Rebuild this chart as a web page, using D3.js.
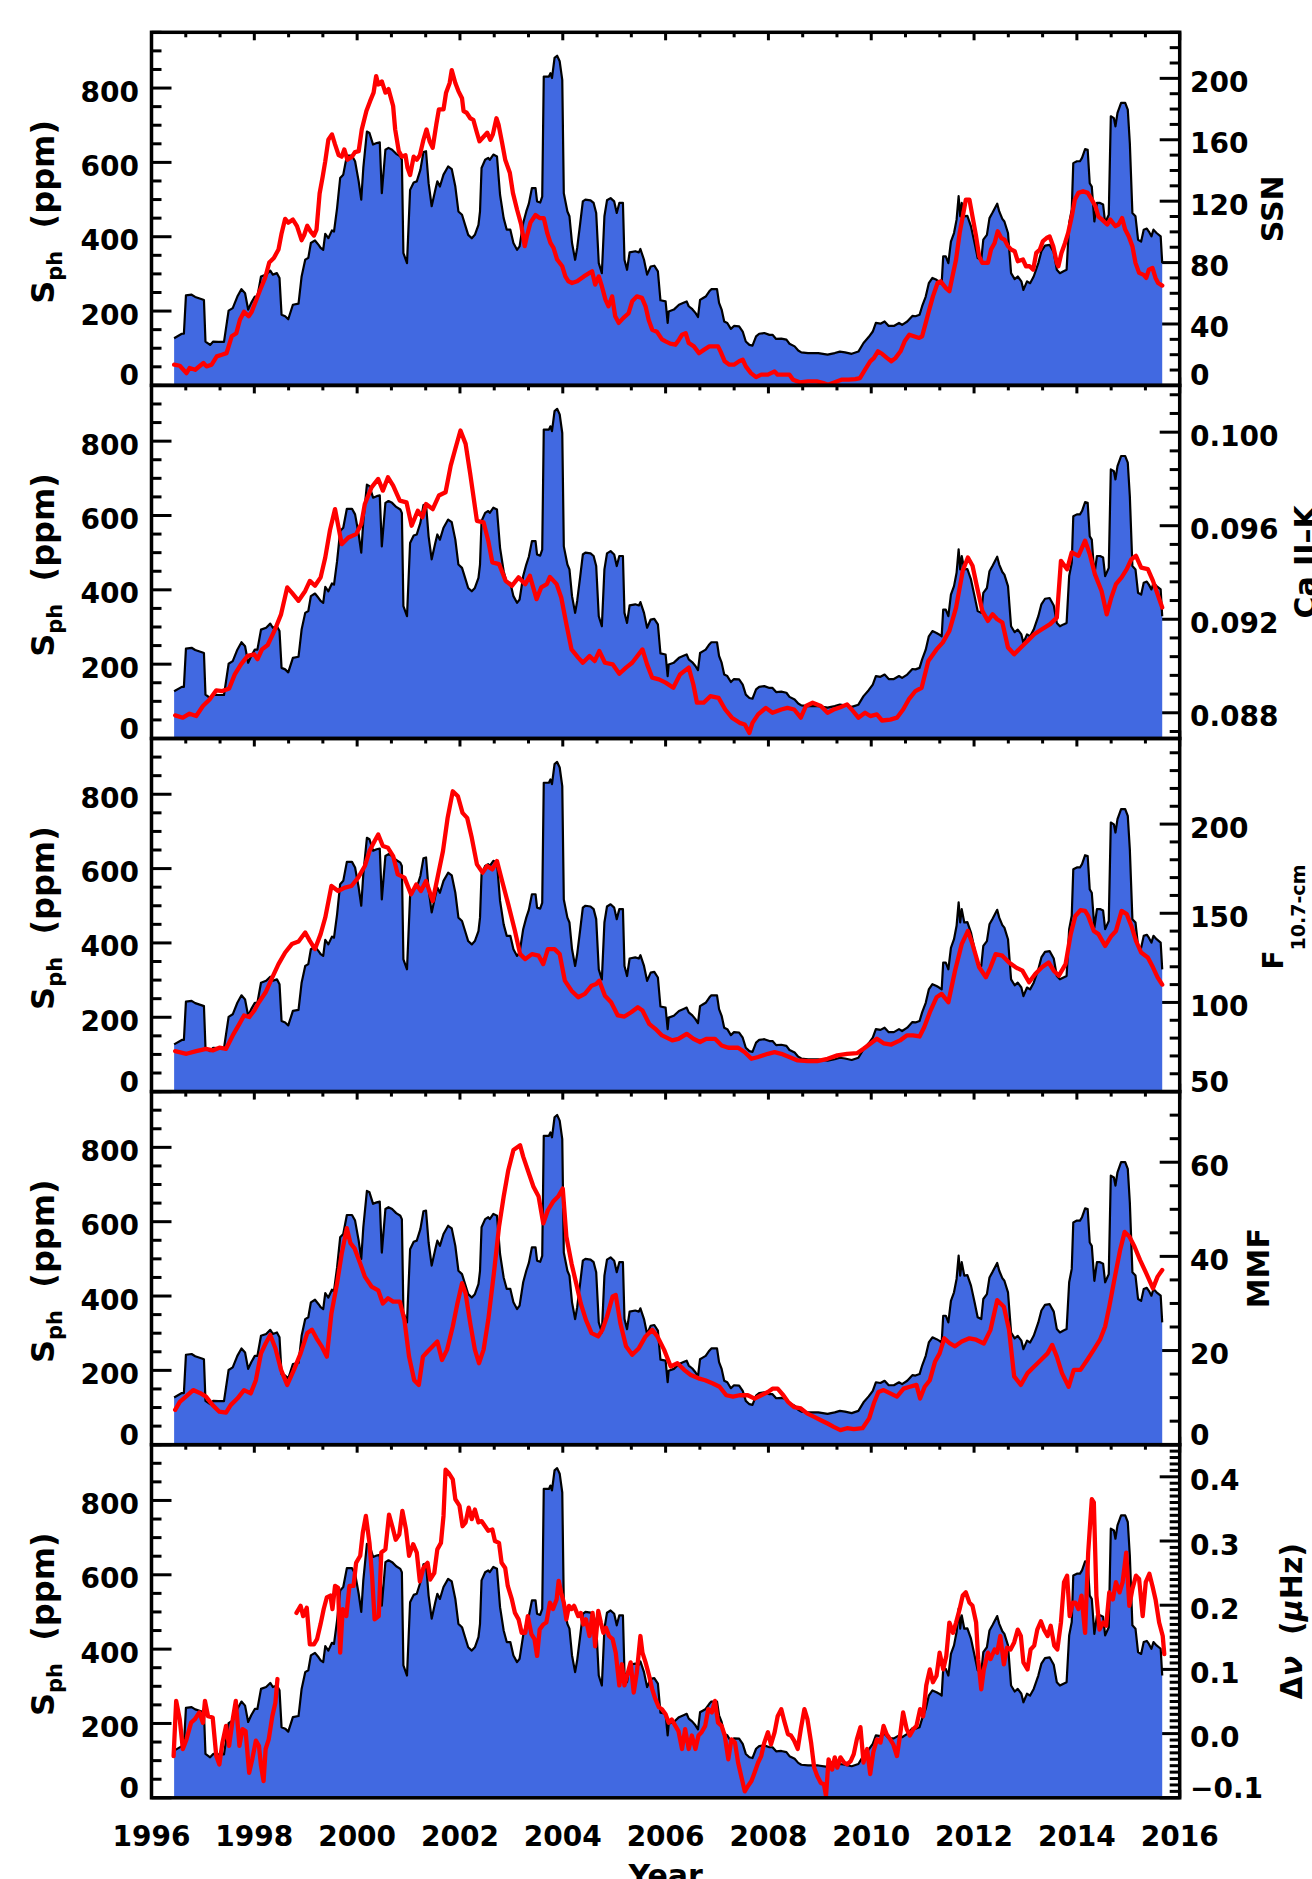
<!DOCTYPE html>
<html><head><meta charset="utf-8">
<script src="https://cdn.jsdelivr.net/npm/d3@7"></script>
<style>
body{margin:0;background:#fff;}
svg{display:block;background:#fff;}
text{font-family:"DejaVu Sans",sans-serif;font-weight:bold;fill:#000;}
</style></head><body>
<svg id="chart" width="1312" height="1879"></svg>
<script>
// ---- DATA (year, value) ----
const sphData = [[1996.44,127],[1996.59,139],[1996.63,139],[1996.67,242],[1996.78,244],[1996.85,238],[1996.98,232],[1997.02,230],[1997.05,118],[1997.14,109],[1997.20,118],[1997.30,117],[1997.41,117],[1997.50,201],[1997.58,208],[1997.67,239],[1997.75,259],[1997.82,248],[1997.88,204],[1997.94,222],[1998.01,239],[1998.06,239],[1998.13,293],[1998.23,298],[1998.31,309],[1998.36,298],[1998.44,302],[1998.49,289],[1998.53,190],[1998.60,186],[1998.66,178],[1998.75,217],[1998.86,220],[1998.92,293],[1998.99,338],[1999.05,343],[1999.10,383],[1999.18,390],[1999.25,378],[1999.29,370],[1999.34,365],[1999.38,408],[1999.44,396],[1999.51,417],[1999.55,414],[1999.61,477],[1999.67,558],[1999.73,567],[1999.80,618],[1999.90,618],[1999.96,603],[2000.03,549],[2000.08,500],[2000.12,585],[2000.19,683],[2000.24,679],[2000.31,648],[2000.38,652],[2000.44,654],[2000.48,517],[2000.55,634],[2000.61,639],[2000.68,634],[2000.76,623],[2000.84,616],[2000.87,607],[2000.90,356],[2000.97,329],[2001.03,526],[2001.10,546],[2001.16,549],[2001.23,580],[2001.29,628],[2001.34,630],[2001.39,544],[2001.45,482],[2001.52,526],[2001.56,549],[2001.61,535],[2001.68,567],[2001.77,589],[2001.84,582],[2001.91,535],[2001.97,468],[2002.04,459],[2002.10,432],[2002.16,405],[2002.23,396],[2002.29,405],[2002.36,432],[2002.39,468],[2002.42,585],[2002.49,607],[2002.55,612],[2002.58,607],[2002.65,621],[2002.72,616],[2002.78,513],[2002.85,450],[2002.91,419],[2002.98,419],[2003.04,383],[2003.11,365],[2003.16,374],[2003.23,437],[2003.29,468],[2003.34,489],[2003.40,531],[2003.47,531],[2003.50,495],[2003.56,492],[2003.60,508],[2003.63,831],[2003.73,831],[2003.76,840],[2003.79,827],[2003.84,881],[2003.89,887],[2003.94,872],[2003.99,822],[2004.02,517],[2004.09,468],[2004.13,455],[2004.18,383],[2004.24,338],[2004.28,370],[2004.34,437],[2004.39,495],[2004.44,500],[2004.54,498],[2004.60,491],[2004.65,464],[2004.70,329],[2004.76,302],[2004.81,455],[2004.86,498],[2004.93,504],[2005.00,495],[2005.05,464],[2005.10,491],[2005.17,491],[2005.20,338],[2005.25,311],[2005.30,358],[2005.41,361],[2005.48,358],[2005.51,367],[2005.58,338],[2005.64,298],[2005.71,320],[2005.78,322],[2005.85,307],[2005.90,229],[2006.00,226],[2006.04,168],[2006.06,199],[2006.16,204],[2006.26,217],[2006.36,223],[2006.41,226],[2006.45,213],[2006.52,205],[2006.58,195],[2006.63,184],[2006.67,230],[2006.73,235],[2006.78,239],[2006.85,253],[2006.89,259],[2007.00,259],[2007.04,222],[2007.09,204],[2007.14,172],[2007.20,168],[2007.27,152],[2007.33,160],[2007.43,159],[2007.50,145],[2007.56,118],[2007.63,109],[2007.69,107],[2007.76,132],[2007.82,139],[2007.92,141],[2008.02,136],[2008.08,136],[2008.15,125],[2008.25,126],[2008.35,123],[2008.41,112],[2008.51,105],[2008.58,94],[2008.64,89],[2008.77,87],[2008.97,87],[2009.15,83],[2009.29,87],[2009.39,91],[2009.49,89],[2009.62,85],[2009.75,91],[2009.85,114],[2009.95,130],[2010.03,145],[2010.09,168],[2010.18,166],[2010.26,172],[2010.34,160],[2010.44,160],[2010.54,168],[2010.60,163],[2010.70,172],[2010.80,187],[2010.86,186],[2010.94,190],[2010.99,213],[2011.06,239],[2011.12,275],[2011.19,289],[2011.27,284],[2011.32,280],[2011.37,275],[2011.40,347],[2011.45,347],[2011.50,329],[2011.55,387],[2011.61,410],[2011.66,446],[2011.70,509],[2011.73,455],[2011.76,491],[2011.81,455],[2011.87,456],[2011.94,428],[2012.01,383],[2012.07,343],[2012.14,338],[2012.18,392],[2012.25,405],[2012.30,450],[2012.36,465],[2012.45,489],[2012.49,468],[2012.55,448],[2012.59,441],[2012.66,410],[2012.72,302],[2012.79,286],[2012.85,293],[2012.92,280],[2012.96,257],[2013.03,280],[2013.09,275],[2013.16,293],[2013.25,329],[2013.31,361],[2013.38,376],[2013.47,378],[2013.55,358],[2013.61,311],[2013.67,302],[2013.74,307],[2013.80,311],[2013.85,437],[2013.90,473],[2013.93,598],[2014.00,603],[2014.06,603],[2014.10,612],[2014.16,636],[2014.21,634],[2014.25,544],[2014.29,535],[2014.34,441],[2014.39,491],[2014.45,491],[2014.51,487],[2014.55,437],[2014.62,459],[2014.66,724],[2014.72,719],[2014.75,697],[2014.79,733],[2014.86,760],[2014.94,760],[2014.99,742],[2015.03,652],[2015.08,464],[2015.14,455],[2015.19,392],[2015.25,387],[2015.30,419],[2015.36,422],[2015.40,414],[2015.45,401],[2015.49,419],[2015.55,410],[2015.63,401],[2015.66,329]];

const ssnData = [[1996.44,13.5],[1996.55,12.8],[1996.68,8],[1996.74,11.3],[1996.85,10.2],[1997.01,14.6],[1997.07,12.4],[1997.17,13.5],[1997.27,18.9],[1997.37,20],[1997.46,21],[1997.56,32],[1997.65,34],[1997.72,42.8],[1997.80,48],[1997.89,45],[1997.95,48],[1998.03,55],[1998.11,62],[1998.21,70],[1998.29,80],[1998.38,83],[1998.47,88.5],[1998.53,99],[1998.60,108.5],[1998.66,106],[1998.75,108],[1998.83,103.7],[1998.92,94.6],[1998.97,98],[1999.03,104],[1999.10,100],[1999.16,97.6],[1999.21,101.5],[1999.27,125],[1999.33,136],[1999.38,146],[1999.44,160],[1999.51,163.5],[1999.57,157],[1999.64,150],[1999.70,149],[1999.75,153.7],[1999.81,147],[1999.90,149],[1999.96,152],[2000.03,152.6],[2000.09,166.7],[2000.18,178.7],[2000.25,185],[2000.32,190.7],[2000.37,201.5],[2000.41,196],[2000.48,198],[2000.55,190.7],[2000.61,193],[2000.70,182],[2000.74,166.7],[2000.81,152.6],[2000.87,149],[2000.94,150],[2000.98,141.7],[2001.03,137],[2001.10,149],[2001.16,147],[2001.22,150],[2001.29,160],[2001.35,166.7],[2001.41,159],[2001.47,154.8],[2001.54,170],[2001.59,179.8],[2001.68,179.8],[2001.73,190.7],[2001.80,197],[2001.84,205.4],[2001.91,197],[2001.97,191.7],[2002.04,187],[2002.07,178.7],[2002.13,177.6],[2002.20,174],[2002.26,173],[2002.33,164.6],[2002.38,159],[2002.46,162],[2002.53,164.6],[2002.59,160],[2002.64,163.5],[2002.71,174],[2002.75,170],[2002.82,158],[2002.88,147],[2002.97,138.5],[2003.03,125.4],[2003.11,114.6],[2003.19,104.8],[2003.26,90.7],[2003.30,97],[2003.37,106],[2003.47,111],[2003.55,109],[2003.63,109],[2003.70,99],[2003.76,92.8],[2003.82,89.6],[2003.89,82],[2003.99,77.6],[2004.05,71],[2004.11,67.8],[2004.18,66.7],[2004.28,67.8],[2004.41,71],[2004.52,73.3],[2004.57,74.3],[2004.63,65.7],[2004.70,71],[2004.76,64.6],[2004.83,55.9],[2004.89,51.5],[2004.96,58],[2005.02,45],[2005.09,40.7],[2005.18,44],[2005.28,47],[2005.35,54.8],[2005.44,58],[2005.54,57],[2005.61,51.5],[2005.67,42.8],[2005.74,36.3],[2005.83,35],[2005.93,30],[2006.00,28.7],[2006.09,27.2],[2006.19,26.5],[2006.26,29.8],[2006.32,33],[2006.39,34],[2006.45,27.6],[2006.55,25.4],[2006.65,21],[2006.75,23.3],[2006.85,25.4],[2006.94,25.4],[2007.02,25.4],[2007.07,22],[2007.15,15.7],[2007.24,13.5],[2007.33,13.5],[2007.43,15.7],[2007.50,16.7],[2007.56,12.4],[2007.66,8],[2007.76,5.4],[2007.86,7],[2007.99,7],[2008.05,8],[2008.12,9.1],[2008.18,7],[2008.32,7],[2008.41,7],[2008.48,3.7],[2008.61,2],[2008.77,2.6],[2008.94,2.6],[2009.07,1.5],[2009.16,0.4],[2009.29,2],[2009.42,3.7],[2009.56,3.7],[2009.69,4.1],[2009.78,4.8],[2009.88,10.2],[2009.98,15.7],[2010.05,17.8],[2010.13,22.2],[2010.21,20.6],[2010.31,17.8],[2010.39,15.7],[2010.47,17.8],[2010.57,22.2],[2010.65,28.7],[2010.74,33],[2010.83,32],[2010.93,30.9],[2010.99,32],[2011.06,40.7],[2011.12,48.3],[2011.20,58],[2011.29,66.7],[2011.35,67.8],[2011.45,63.5],[2011.52,61.3],[2011.58,71],[2011.65,82],[2011.72,99.3],[2011.78,110],[2011.84,121],[2011.91,121],[2011.97,110],[2012.04,97],[2012.10,84],[2012.16,79.8],[2012.27,79.8],[2012.33,88.5],[2012.40,92.8],[2012.46,100.4],[2012.53,96],[2012.59,95],[2012.66,90.7],[2012.72,88.5],[2012.79,87.4],[2012.85,80.9],[2012.95,82],[2013.01,77.6],[2013.08,77.6],[2013.15,75.4],[2013.21,86.3],[2013.28,88.5],[2013.34,94],[2013.41,96],[2013.47,97],[2013.54,90.7],[2013.61,79.8],[2013.64,77.6],[2013.70,86.3],[2013.77,92.8],[2013.83,99.3],[2013.90,110],[2013.96,121],[2014.03,125.4],[2014.12,126.5],[2014.21,125.4],[2014.29,121],[2014.36,116.7],[2014.42,110],[2014.49,108],[2014.59,104.8],[2014.65,108],[2014.75,103.7],[2014.81,104.8],[2014.88,109],[2014.94,101.5],[2015.01,97],[2015.08,90.7],[2015.14,79.8],[2015.21,73.3],[2015.30,72],[2015.35,70],[2015.40,75.4],[2015.47,76.5],[2015.53,70],[2015.58,66.7],[2015.66,65]];

const caData = [[1996.46,0.08789],[1996.61,0.08779],[1996.74,0.08796],[1996.87,0.08786],[1997.00,0.08829],[1997.13,0.08857],[1997.26,0.08896],[1997.38,0.08893],[1997.51,0.08904],[1997.62,0.08964],[1997.74,0.09007],[1997.87,0.09043],[1998.00,0.09050],[1998.06,0.09029],[1998.15,0.09071],[1998.26,0.09090],[1998.39,0.09150],[1998.52,0.09221],[1998.64,0.09336],[1998.73,0.09314],[1998.86,0.09279],[1998.99,0.09321],[1999.08,0.09364],[1999.18,0.09343],[1999.29,0.09379],[1999.38,0.09464],[1999.47,0.09579],[1999.57,0.09671],[1999.70,0.09521],[1999.83,0.09550],[1999.98,0.09564],[2000.08,0.09607],[2000.15,0.09693],[2000.28,0.09764],[2000.41,0.09800],[2000.50,0.09750],[2000.60,0.09807],[2000.70,0.09771],[2000.83,0.09707],[2000.96,0.09700],[2001.06,0.09600],[2001.18,0.09664],[2001.27,0.09636],[2001.34,0.09693],[2001.47,0.09671],[2001.59,0.09729],[2001.72,0.09743],[2001.82,0.09857],[2001.91,0.09929],[2002.01,0.10007],[2002.11,0.09950],[2002.20,0.09821],[2002.33,0.09621],[2002.46,0.09614],[2002.55,0.09536],[2002.63,0.09443],[2002.76,0.09436],[2002.89,0.09364],[2003.01,0.09343],[2003.14,0.09379],[2003.27,0.09350],[2003.36,0.09386],[2003.49,0.09286],[2003.58,0.09336],[2003.69,0.09350],[2003.75,0.09381],[2003.88,0.09350],[2003.97,0.09293],[2004.07,0.09179],[2004.17,0.09071],[2004.30,0.09036],[2004.39,0.09014],[2004.52,0.09043],[2004.62,0.09021],[2004.71,0.09064],[2004.82,0.09014],[2004.97,0.09007],[2005.10,0.08967],[2005.23,0.08993],[2005.35,0.09014],[2005.55,0.09071],[2005.64,0.09007],[2005.74,0.08950],[2005.87,0.08943],[2006.00,0.08929],[2006.15,0.08907],[2006.28,0.08964],[2006.45,0.08993],[2006.54,0.08921],[2006.61,0.08843],[2006.74,0.08843],[2006.87,0.08871],[2007.03,0.08864],[2007.16,0.08814],[2007.29,0.08779],[2007.44,0.08757],[2007.54,0.08750],[2007.63,0.08714],[2007.69,0.08757],[2007.80,0.08793],[2007.95,0.08821],[2008.08,0.08800],[2008.25,0.08814],[2008.37,0.08821],[2008.50,0.08814],[2008.63,0.08779],[2008.73,0.08829],[2008.86,0.08843],[2009.02,0.08829],[2009.15,0.08800],[2009.27,0.08814],[2009.40,0.08824],[2009.53,0.08836],[2009.62,0.08814],[2009.75,0.08779],[2009.88,0.08800],[2009.98,0.08786],[2010.11,0.08793],[2010.21,0.08767],[2010.37,0.08771],[2010.50,0.08779],[2010.62,0.08814],[2010.73,0.08857],[2010.86,0.08893],[2010.98,0.08907],[2011.11,0.09021],[2011.27,0.09071],[2011.39,0.09100],[2011.52,0.09150],[2011.65,0.09250],[2011.78,0.09407],[2011.88,0.09464],[2011.97,0.09429],[2012.06,0.09336],[2012.16,0.09236],[2012.27,0.09193],[2012.36,0.09221],[2012.45,0.09200],[2012.55,0.09186],[2012.66,0.09079],[2012.78,0.09050],[2012.91,0.09079],[2013.04,0.09107],[2013.17,0.09136],[2013.32,0.09157],[2013.48,0.09179],[2013.61,0.09207],[2013.69,0.09450],[2013.81,0.09414],[2013.90,0.09486],[2014.03,0.09471],[2014.16,0.09536],[2014.25,0.09479],[2014.35,0.09393],[2014.48,0.09321],[2014.58,0.09221],[2014.67,0.09293],[2014.76,0.09350],[2014.87,0.09379],[2014.97,0.09414],[2015.06,0.09457],[2015.15,0.09471],[2015.25,0.09421],[2015.38,0.09414],[2015.48,0.09364],[2015.57,0.09307],[2015.66,0.09250]];

const f107Data = [[1996.46,72.7],[1996.68,71.2],[1996.87,72.7],[1997.06,74],[1997.19,73.1],[1997.32,74.6],[1997.45,74],[1997.58,81.5],[1997.71,88],[1997.80,92.7],[1997.90,91.8],[1998.00,95.5],[1998.09,100.1],[1998.22,105.7],[1998.35,114.1],[1998.47,121.5],[1998.60,128],[1998.73,132.7],[1998.86,134.2],[1998.99,139.2],[1999.08,134.5],[1999.18,129.9],[1999.29,138.3],[1999.38,147.6],[1999.50,165.3],[1999.63,162.5],[1999.76,164.4],[1999.89,165.3],[2000.02,170],[2000.15,176.5],[2000.24,184.9],[2000.34,190.5],[2000.41,194.2],[2000.50,187.7],[2000.60,186.7],[2000.70,182.1],[2000.79,171.8],[2000.92,170],[2001.05,160.6],[2001.15,166.2],[2001.24,162.5],[2001.34,168.1],[2001.47,156.9],[2001.59,173.7],[2001.67,184.9],[2001.76,203.5],[2001.86,218.4],[2001.96,215.6],[2002.05,206.3],[2002.14,203.5],[2002.23,192.3],[2002.33,177.4],[2002.44,172.8],[2002.53,176.5],[2002.63,174.6],[2002.72,179.3],[2002.82,168.1],[2002.94,155],[2003.07,140.1],[2003.17,127.1],[2003.27,124.3],[2003.40,127.1],[2003.53,126.2],[2003.62,121.5],[2003.71,129.9],[2003.84,129.9],[2003.94,127.1],[2004.04,112.2],[2004.17,106.6],[2004.30,102.9],[2004.43,104.8],[2004.56,109.4],[2004.65,110.3],[2004.71,112.2],[2004.82,103.8],[2004.94,100.1],[2005.07,92.7],[2005.20,92.1],[2005.33,94.5],[2005.46,97.3],[2005.55,95.5],[2005.68,88],[2005.80,85.2],[2005.93,81.5],[2006.13,78.7],[2006.25,79.6],[2006.41,82.4],[2006.54,79.6],[2006.67,77.8],[2006.79,79.6],[2006.96,79.6],[2007.09,75.9],[2007.22,74.6],[2007.41,74.6],[2007.54,72.1],[2007.67,68.4],[2007.80,69.4],[2007.99,71.2],[2008.12,72.1],[2008.25,71.2],[2008.38,69.7],[2008.57,67.5],[2008.76,67.1],[2008.95,67.1],[2009.15,68.4],[2009.34,70.3],[2009.53,71.2],[2009.73,71.6],[2009.85,74],[2009.98,76.8],[2010.11,79.6],[2010.24,77.1],[2010.39,76.4],[2010.56,78.7],[2010.69,81.5],[2010.81,81.5],[2010.94,80.9],[2011.03,86.1],[2011.14,94.5],[2011.27,102.9],[2011.37,104.8],[2011.50,100.1],[2011.63,117.8],[2011.76,132.7],[2011.88,140.1],[2011.97,132.7],[2012.10,119.7],[2012.23,114.1],[2012.32,119.7],[2012.42,127.1],[2012.55,126.2],[2012.68,122.4],[2012.81,119.7],[2012.94,117.8],[2013.07,111.3],[2013.19,115.9],[2013.32,119.7],[2013.45,122.4],[2013.55,117.8],[2013.65,115],[2013.78,121.5],[2013.88,138.3],[2013.97,148.5],[2014.07,151.7],[2014.16,151.3],[2014.22,148.5],[2014.33,140.1],[2014.42,138.3],[2014.55,131.7],[2014.67,137.3],[2014.76,140.1],[2014.87,151.3],[2014.97,149.5],[2015.06,142.9],[2015.15,134.5],[2015.25,128],[2015.38,125.2],[2015.48,119.7],[2015.57,114.1],[2015.66,110]];

const mmfData = [[1996.46,7.4],[1996.55,9.1],[1996.68,10.3],[1996.81,11.6],[1996.94,11.0],[1997.06,10.2],[1997.19,8.4],[1997.32,7.0],[1997.45,6.8],[1997.54,8.4],[1997.67,9.8],[1997.80,11.6],[1997.93,10.9],[1998.03,13.7],[1998.13,19.4],[1998.22,21.5],[1998.31,23.3],[1998.41,20.5],[1998.52,15.9],[1998.64,12.7],[1998.77,15.9],[1998.90,19.4],[1999.03,23.7],[1999.12,24.4],[1999.21,22.6],[1999.31,20.9],[1999.41,18.7],[1999.50,27.9],[1999.61,34.3],[1999.70,40.6],[1999.80,46.0],[1999.87,42.8],[1999.95,41.7],[2000.06,38.5],[2000.15,35.7],[2000.28,33.6],[2000.41,32.8],[2000.50,30.0],[2000.60,31.1],[2000.70,30.4],[2000.83,30.4],[2000.92,26.5],[2001.01,18.7],[2001.11,13.7],[2001.20,12.7],[2001.28,18.7],[2001.37,19.8],[2001.47,20.9],[2001.56,21.9],[2001.65,18.0],[2001.75,20.2],[2001.86,25.1],[2001.95,30.0],[2002.04,34.3],[2002.11,32.1],[2002.20,25.8],[2002.29,20.2],[2002.37,17.3],[2002.46,20.2],[2002.55,26.5],[2002.66,36.4],[2002.76,46.3],[2002.85,52.7],[2002.94,58.3],[2003.04,62.6],[2003.17,63.6],[2003.23,61.2],[2003.32,58.3],[2003.43,54.8],[2003.53,52.7],[2003.62,47.0],[2003.71,49.8],[2003.81,51.6],[2003.91,52.7],[2004.00,54.4],[2004.07,44.2],[2004.17,38.5],[2004.26,34.3],[2004.35,30.0],[2004.45,26.5],[2004.56,23.7],[2004.69,23.0],[2004.77,24.4],[2004.86,27.2],[2004.97,31.5],[2005.03,31.8],[2005.12,25.8],[2005.23,20.9],[2005.35,19.1],[2005.48,20.5],[2005.61,23.0],[2005.74,24.4],[2005.84,23.0],[2005.97,20.2],[2006.10,16.6],[2006.23,17.3],[2006.36,15.9],[2006.49,14.8],[2006.64,14.1],[2006.77,13.7],[2006.92,13.0],[2007.05,12.3],[2007.18,10.5],[2007.31,10.2],[2007.44,10.5],[2007.60,10.5],[2007.73,9.8],[2007.86,10.5],[2007.99,11.2],[2008.08,11.9],[2008.18,11.9],[2008.29,10.5],[2008.38,9.1],[2008.50,8.0],[2008.63,7.7],[2008.76,6.6],[2008.89,5.9],[2009.02,5.2],[2009.15,4.5],[2009.27,3.8],[2009.40,3.1],[2009.53,3.5],[2009.66,3.3],[2009.83,3.5],[2009.96,5.6],[2010.05,8.8],[2010.14,11.2],[2010.24,11.6],[2010.37,10.9],[2010.50,10.2],[2010.63,11.9],[2010.75,12.3],[2010.88,12.7],[2010.95,9.8],[2011.04,12.3],[2011.14,13.7],[2011.24,17.6],[2011.33,19.4],[2011.42,22.6],[2011.53,21.5],[2011.63,20.9],[2011.76,21.9],[2011.91,22.6],[2012.04,22.3],[2012.19,21.5],[2012.32,24.4],[2012.45,30.7],[2012.58,29.3],[2012.68,24.4],[2012.78,14.5],[2012.91,12.7],[2013.04,15.2],[2013.17,16.6],[2013.30,18.0],[2013.43,19.4],[2013.52,21.2],[2013.61,18.7],[2013.71,15.2],[2013.84,12.3],[2013.94,15.9],[2014.07,15.9],[2014.20,18.0],[2014.33,20.2],[2014.45,22.3],[2014.55,25.1],[2014.63,29.3],[2014.74,35.7],[2014.84,41.3],[2014.93,45.2],[2015.02,44.2],[2015.12,42.1],[2015.23,39.2],[2015.35,36.4],[2015.48,33.2],[2015.57,35.7],[2015.66,37.1]];

const dnuSeg1 = [[1996.43,-0.035],[1996.48,0.051],[1996.55,0.022],[1996.61,-0.024],[1996.68,-0.009],[1996.77,0.017],[1996.84,0.022],[1996.93,0.033],[1997.00,0.017],[1997.04,0.051],[1997.10,0.027],[1997.19,0.025],[1997.26,-0.035],[1997.32,-0.048],[1997.38,-0.014],[1997.45,0.012],[1997.51,-0.019],[1997.58,0.022],[1997.64,0.051],[1997.71,-0.019],[1997.77,0.007],[1997.83,0.004],[1997.90,-0.061],[1997.96,-0.040],[1998.03,-0.011],[1998.09,-0.019],[1998.13,-0.050],[1998.18,-0.074],[1998.22,-0.024],[1998.28,-0.009],[1998.35,0.027],[1998.41,0.048],[1998.45,0.085]];

const dnuSeg2 = [[1998.82,0.188],[1998.90,0.199],[1998.95,0.183],[1999.02,0.196],[1999.08,0.139],[1999.16,0.139],[1999.22,0.147],[1999.29,0.171],[1999.35,0.194],[1999.41,0.212],[1999.48,0.215],[1999.52,0.194],[1999.57,0.230],[1999.63,0.227],[1999.67,0.126],[1999.72,0.194],[1999.79,0.183],[1999.85,0.230],[1999.93,0.230],[1999.98,0.266],[2000.06,0.277],[2000.11,0.313],[2000.17,0.339],[2000.24,0.297],[2000.29,0.246],[2000.34,0.178],[2000.42,0.183],[2000.47,0.282],[2000.55,0.287],[2000.62,0.341],[2000.69,0.321],[2000.75,0.302],[2000.82,0.310],[2000.88,0.347],[2000.95,0.318],[2001.01,0.277],[2001.09,0.295],[2001.16,0.282],[2001.22,0.237],[2001.29,0.258],[2001.37,0.266],[2001.42,0.240],[2001.50,0.250],[2001.56,0.287],[2001.63,0.297],[2001.68,0.339],[2001.72,0.411],[2001.78,0.406],[2001.86,0.396],[2001.91,0.365],[2001.99,0.355],[2002.05,0.323],[2002.11,0.329],[2002.17,0.352],[2002.23,0.334],[2002.29,0.349],[2002.36,0.329],[2002.42,0.331],[2002.49,0.323],[2002.55,0.316],[2002.63,0.318],[2002.68,0.300],[2002.76,0.297],[2002.81,0.266],[2002.88,0.258],[2002.93,0.230],[2003.01,0.209],[2003.07,0.188],[2003.14,0.178],[2003.20,0.157],[2003.27,0.157],[2003.32,0.183],[2003.39,0.155],[2003.45,0.147],[2003.50,0.121],[2003.55,0.162],[2003.62,0.170],[2003.68,0.173],[2003.75,0.204],[2003.81,0.194],[2003.88,0.209],[2003.92,0.238],[2003.97,0.219],[2004.02,0.204],[2004.07,0.178],[2004.12,0.199],[2004.17,0.194],[2004.22,0.199],[2004.30,0.183],[2004.35,0.188],[2004.40,0.170],[2004.45,0.178],[2004.52,0.152],[2004.58,0.188],[2004.63,0.136],[2004.69,0.191],[2004.74,0.173],[2004.79,0.157],[2004.84,0.165],[2004.90,0.152],[2004.97,0.147],[2005.03,0.126],[2005.10,0.075],[2005.15,0.108],[2005.20,0.075],[2005.25,0.090],[2005.32,0.111],[2005.38,0.064],[2005.44,0.095],[2005.51,0.152],[2005.55,0.126],[2005.61,0.111],[2005.68,0.090],[2005.74,0.069],[2005.80,0.054],[2005.87,0.041],[2005.93,0.038],[2006.00,0.030],[2006.06,0.017],[2006.12,0.022],[2006.19,0.012],[2006.25,0.004],[2006.32,-0.024],[2006.38,0.007],[2006.45,-0.024],[2006.51,-0.003],[2006.58,-0.024],[2006.64,-0.003],[2006.70,0.002],[2006.77,0.012],[2006.83,0.038],[2006.90,0.033],[2006.96,0.051],[2007.02,0.017],[2007.09,0.012],[2007.15,-0.003],[2007.22,-0.040],[2007.28,-0.009],[2007.35,-0.014],[2007.41,-0.045],[2007.47,-0.066],[2007.54,-0.090],[2007.60,-0.082],[2007.67,-0.074],[2007.73,-0.061],[2007.80,-0.045],[2007.86,-0.035],[2007.92,-0.014],[2007.99,0.002],[2008.05,-0.017],[2008.12,0.002],[2008.18,0.027],[2008.25,0.038],[2008.31,0.019],[2008.38,-0.001],[2008.44,-0.003],[2008.50,-0.011],[2008.57,-0.024],[2008.63,0.007],[2008.70,0.038],[2008.76,0.022],[2008.83,-0.014],[2008.89,-0.053],[2008.95,-0.066],[2009.02,-0.077],[2009.08,-0.079],[2009.12,-0.097],[2009.17,-0.040],[2009.24,-0.056],[2009.29,-0.037],[2009.34,-0.053],[2009.40,-0.037],[2009.47,-0.045],[2009.53,-0.048],[2009.60,-0.043],[2009.66,-0.032],[2009.72,-0.009],[2009.79,0.010],[2009.85,-0.045],[2009.92,-0.024],[2009.98,-0.063],[2010.04,-0.029],[2010.11,-0.009],[2010.18,-0.014],[2010.24,0.012],[2010.30,-0.001],[2010.37,-0.009],[2010.43,-0.017],[2010.50,-0.035],[2010.56,-0.003],[2010.62,0.033],[2010.69,0.007],[2010.75,-0.003],[2010.82,0.007],[2010.88,0.012],[2010.95,0.038],[2011.01,0.027],[2011.07,0.075],[2011.14,0.100],[2011.20,0.080],[2011.27,0.090],[2011.33,0.126],[2011.40,0.100],[2011.46,0.121],[2011.52,0.173],[2011.59,0.157],[2011.65,0.173],[2011.72,0.194],[2011.78,0.215],[2011.84,0.220],[2011.91,0.204],[2011.97,0.199],[2012.04,0.173],[2012.08,0.116],[2012.14,0.069],[2012.19,0.100],[2012.27,0.126],[2012.32,0.116],[2012.40,0.131],[2012.45,0.126],[2012.51,0.152],[2012.58,0.108],[2012.64,0.134],[2012.71,0.131],[2012.78,0.142],[2012.85,0.162],[2012.91,0.152],[2012.96,0.111],[2013.04,0.100],[2013.10,0.131],[2013.17,0.137],[2013.23,0.162],[2013.30,0.175],[2013.36,0.162],[2013.43,0.152],[2013.49,0.168],[2013.56,0.137],[2013.62,0.131],[2013.69,0.173],[2013.75,0.236],[2013.81,0.246],[2013.86,0.183],[2013.92,0.204],[2013.97,0.204],[2014.03,0.194],[2014.09,0.215],[2014.16,0.157],[2014.22,0.282],[2014.29,0.365],[2014.33,0.360],[2014.38,0.215],[2014.44,0.162],[2014.51,0.173],[2014.57,0.168],[2014.63,0.220],[2014.70,0.209],[2014.76,0.236],[2014.83,0.220],[2014.89,0.236],[2014.96,0.282],[2015.02,0.199],[2015.08,0.225],[2015.15,0.246],[2015.21,0.241],[2015.28,0.183],[2015.34,0.236],[2015.41,0.249],[2015.47,0.230],[2015.53,0.209],[2015.60,0.173],[2015.67,0.152],[2015.70,0.124]];

const yearTickLabels = [1996,1998,2000,2002,2004,2006,2008,2010,2012,2014,2016];
const sphTickLabels = [0,200,400,600,800];
const ssnTickLabels = [0,40,80,120,160,200];
const caTickLabels = [0.088,0.092,0.096,0.100];
const f107TickLabels = [50,100,150,200];
const mmfTickLabels = [0,20,40,60];
const dnuTickLabels = [-0.1,0.0,0.1,0.2,0.3,0.4];

// ---- LAYOUT ----
const L = 151.5, R = 1179.7, T = 32.3, PH = 353.1;
const svg = d3.select('#chart');
const x = d3.scaleLinear().domain([1996, 2016]).range([L, R]);

const fmtInt = v => String(v);
const panels = [
  {series:[ssnData], domain:[0,230], labels:ssnTickLabels, minor:10, fmt:fmtInt, title:'ssn'},
  {series:[caData], domain:[0.0869,0.102], labels:caTickLabels, minor:0.0008, fmt:v=>v.toFixed(3), title:'ca'},
  {series:[f107Data], domain:[50,248], labels:f107TickLabels, minor:10, fmt:fmtInt, title:'f107'},
  {series:[mmfData], domain:[0,75], labels:mmfTickLabels, minor:5, fmt:fmtInt, title:'mmf'},
  {series:[dnuSeg1, dnuSeg2], domain:[-0.1,0.45], labels:dnuTickLabels, minor:0.01, fmt:v=>(v<-1e-9?'\u2212':'')+Math.abs(v).toFixed(1), title:'dnu'}
];

const defs = svg.append('defs');
const TICK_W = 3;

function stepTicks(d0, d1, step){
  const a = Math.ceil(d0/step - 1e-6), b = Math.floor(d1/step + 1e-6);
  return d3.range(a, b+1).map(k => +(k*step).toFixed(6));
}

panels.forEach((p, i) => {
  const top = T + i*PH, bot = top + PH;
  const yL = d3.scaleLinear().domain([0, 950]).range([bot, top]);
  const yR = d3.scaleLinear().domain(p.domain).range([bot, top]);
  const g = svg.append('g');

  defs.append('clipPath').attr('id','clip'+i).append('rect')
    .attr('x', L).attr('y', top).attr('width', R-L).attr('height', PH);

  // x ticks (top & bottom, inward)
  const xt = d3.range(0, 31).map(k => ({v:1996 + k*2/3, major:k%3===0}));
  xt.forEach(t => {
    const len = t.major ? 8 : 5;
    const xx = x(t.v);
    g.append('line').attr('x1',xx).attr('x2',xx).attr('y1',top).attr('y2',top+len)
      .attr('stroke','#000').attr('stroke-width',TICK_W);
    g.append('line').attr('x1',xx).attr('x2',xx).attr('y1',bot).attr('y2',bot-len)
      .attr('stroke','#000').attr('stroke-width',TICK_W);
  });

  // left ticks
  stepTicks(0, 950, 50).forEach(v => {
    const major = Math.abs(v/200 - Math.round(v/200)) < 1e-6;
    const len = major ? 20 : 10;
    g.append('line').attr('x1',L).attr('x2',L+len).attr('y1',yL(v)).attr('y2',yL(v))
      .attr('stroke','#000').attr('stroke-width',TICK_W);
  });
  sphTickLabels.forEach(v => {
    const yy = yL(v);
    const base = (Math.abs(yy - bot) < 1) ? yy : yy + 13.5;
    g.append('text').attr('x', 139).attr('y', base).attr('text-anchor','end')
      .attr('font-size', 28).text(v);
  });

  // right ticks
  stepTicks(p.domain[0], p.domain[1], p.minor).forEach(v => {
    const major = p.labels.some(l => Math.abs(l - v) < p.minor*0.01);
    const len = major ? 20 : 10;
    g.append('line').attr('x1',R).attr('x2',R-len).attr('y1',yR(v)).attr('y2',yR(v))
      .attr('stroke','#000').attr('stroke-width',TICK_W);
  });
  p.labels.forEach(v => {
    const yy = yR(v);
    const base = (Math.abs(yy - bot) < 1) ? yy : yy + 13.5;
    g.append('text').attr('x', 1190).attr('y', base).attr('text-anchor','start')
      .attr('font-size', 28).text(p.fmt(v));
  });

  // blue filled S_ph
  const area = d3.area().x(d => x(d[0])).y0(bot).y1(d => yL(d[1]));
  const lineL = d3.line().x(d => x(d[0])).y(d => yL(d[1]));
  g.append('path').datum(sphData).attr('d', area).attr('fill','#4169E1')
    .attr('clip-path','url(#clip'+i+')');
  g.append('path').datum(sphData).attr('d', lineL).attr('fill','none')
    .attr('stroke','#000').attr('stroke-width',2.2).attr('stroke-linejoin','round')
    .attr('clip-path','url(#clip'+i+')');

  // red series
  const lineR = d3.line().x(d => x(d[0])).y(d => yR(d[1]));
  p.series.forEach(s => {
    g.append('path').datum(s).attr('d', lineR).attr('fill','none')
      .attr('stroke','#FF0000').attr('stroke-width',4.3)
      .attr('stroke-linejoin','round').attr('stroke-linecap','round')
      .attr('clip-path','url(#clip'+i+')');
  });

  // frame
  g.append('rect').attr('x',L).attr('y',top).attr('width',R-L).attr('height',PH)
    .attr('fill','none').attr('stroke','#000').attr('stroke-width',3.5);

  // left title
  const cy = (top + bot)/2 + 3;
  const lt = g.append('text').attr('transform',`translate(54,${cy}) rotate(-90)`)
    .attr('text-anchor','middle').attr('font-size',32);
  lt.append('tspan').text('S');
  lt.append('tspan').attr('font-size',21).attr('dy',8).text('ph');
  lt.append('tspan').attr('dy',-8).text('\u00a0\u00a0(ppm)');

  // right titles
  const cm = (top + bot)/2;
  if (p.title === 'ssn') {
    g.append('text').attr('transform',`translate(1283,${cm}) rotate(-90)`)
      .attr('text-anchor','middle').attr('font-size',30).text('SSN');
  } else if (p.title === 'ca') {
    g.append('text').attr('transform',`translate(1316,${cm}) rotate(-90)`)
      .attr('text-anchor','middle').attr('font-size',30).text('Ca II\u2013K');
  } else if (p.title === 'f107') {
    const t = g.append('text').attr('transform',`translate(1283,${cm+2}) rotate(-90)`)
      .attr('text-anchor','middle').attr('font-size',28);
    t.append('tspan').text('F');
    t.append('tspan').attr('font-size',19).attr('dy',22).text('10.7\u2011cm');
  } else if (p.title === 'mmf') {
    g.append('text').attr('transform',`translate(1269,${cm}) rotate(-90)`)
      .attr('text-anchor','middle').attr('font-size',30).text('MMF');
  } else if (p.title === 'dnu') {
    const t = g.append('text').attr('transform',`translate(1302,${cm}) rotate(-90)`)
      .attr('text-anchor','middle').attr('font-size',30);
    t.append('tspan').text('\u0394');
    t.append('tspan').attr('font-style','italic').text('\u03bd');
    t.append('tspan').text('\u00a0\u00a0(');
    t.append('tspan').attr('font-style','italic').text('\u03bc');
    t.append('tspan').text('Hz)');
  }
});

// x tick labels (bottom panel only)
yearTickLabels.forEach(v => {
  svg.append('text').attr('x', x(v)).attr('y', 1846).attr('text-anchor','middle')
    .attr('font-size', 28).text(v);
});
svg.append('text').attr('x', (L+R)/2).attr('y', 1886).attr('text-anchor','middle')
  .attr('font-size', 30).text('Year');
</script>
</body></html>
